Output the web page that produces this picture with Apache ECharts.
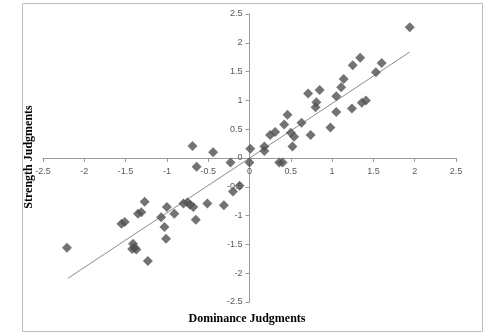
<!DOCTYPE html>
<html>
<head>
<meta charset="utf-8">
<script src="https://cdn.jsdelivr.net/npm/echarts@6/dist/echarts.min.js"></script>
<style>
  html, body { margin: 0; padding: 0; background: #fff; }
  #chart { width: 494px; height: 336px; }
</style>
</head>
<body>
<div id="chart"></div>
<script>
// --- Data ---
const dominance = [
  -2.21, -1.55, -1.51, -1.35, -1.31, -1.27, -1.41, -1.39, -1.42, -1.37,
  -1.23, -1.00, -1.07, -0.91, -1.03, -1.01, -0.80, -0.75, -0.72, -0.68,
  -0.65, -0.51, -0.31, -0.69, -0.64, -0.44, -0.23, -0.20, -0.12, 0.01,
  0.00, 0.18, 0.18, 0.25, 0.31, 0.42, 0.46, 0.50, 0.54, 0.52,
  0.63, 0.74, 0.71, 0.85, 0.80, 0.81, 0.98, 1.05, 1.05, 1.11,
  1.14, 1.25, 1.34, 1.24, 1.36, 1.41, 1.53, 1.60, 1.94, 0.36, 0.40
];
const strength = [
  -1.56, -1.14, -1.11, -0.97, -0.94, -0.76, -1.49, -1.56, -1.58, -1.59,
  -1.79, -0.85, -1.03, -0.97, -1.20, -1.40, -0.79, -0.77, -0.81, -0.85,
  -1.07, -0.79, -0.82, 0.21, -0.15, 0.10, -0.08, -0.58, -0.48, 0.16,
  -0.08, 0.20, 0.12, 0.40, 0.45, 0.58, 0.75, 0.44, 0.37, 0.20,
  0.61, 0.40, 1.12, 1.18, 0.88, 0.97, 0.53, 1.07, 0.80, 1.23,
  1.37, 1.61, 1.74, 0.86, 0.96, 1.00, 1.49, 1.65, 2.27, -0.08, -0.08
];
// linear trend line end points
const trendX = [-2.2, 1.94];
const trendY = [-2.09, 1.84];

const xTitle = 'Dominance Judgments';
const yTitle = 'Strength Judgments';

const points = dominance.map((x, i) => [x, strength[i]]);
const trend = trendX.map((x, i) => [x, trendY[i]]);

// grid box, axes cross at the middle (0, 0)
const G = { left: 43, right: 38, top: 14, bottom: 34 };
const gridW = 494 - G.left - G.right;
const gridH = 336 - G.top - G.bottom;

const axisCommon = {
    type: 'value',
    min: -2.5,
    max: 2.5,
    interval: 0.5,
    axisLine: { onZero: false, lineStyle: { color: '#9a9a9a', width: 1 } },
    axisTick: { show: true, length: 4, lineStyle: { color: '#9a9a9a' } },
    axisLabel: { color: '#595959', fontFamily: 'Liberation Sans', fontSize: 9 },
    splitLine: { show: false }
};

const chart = echarts.init(document.getElementById('chart'), null, { renderer: 'canvas' });
chart.setOption({
    animation: false,
    backgroundColor: '#fff',
    grid: G,
    xAxis: Object.assign({}, axisCommon, {
        position: 'bottom',
        offset: -gridH / 2,
        axisLabel: Object.assign({}, axisCommon.axisLabel, { margin: 9 })
    }),
    yAxis: Object.assign({}, axisCommon, {
        position: 'left',
        offset: -gridW / 2,
        axisLabel: Object.assign({}, axisCommon.axisLabel, { margin: 7 })
    }),
    graphic: [
        {
            type: 'rect', silent: true, z: -1,
            shape: { x: 22.5, y: 3.5, width: 460, height: 328 },
            style: { fill: 'none', stroke: '#bdbdbd', lineWidth: 1 }
        },
        {
            type: 'text', left: 'center', top: 313,
            style: { text: xTitle, font: 'bold 12px "Liberation Serif"', fill: '#000' }
        },
        {
            type: 'text', x: 29, y: 157, rotation: Math.PI / 2,
            style: {
                text: yTitle, font: 'bold 12px "Liberation Serif"', fill: '#000',
                align: 'center', verticalAlign: 'middle'
            }
        }
    ],
    series: [
        {
            type: 'line',
            data: trend,
            showSymbol: false,
            lineStyle: { color: '#8c8c8c', width: 1 },
            z: 1
        },
        {
            type: 'scatter',
            data: points,
            symbol: 'diamond',
            symbolSize: 10,
            itemStyle: { color: '#505050' },
            z: 2
        }
    ]
});
</script>
</body>
</html>
